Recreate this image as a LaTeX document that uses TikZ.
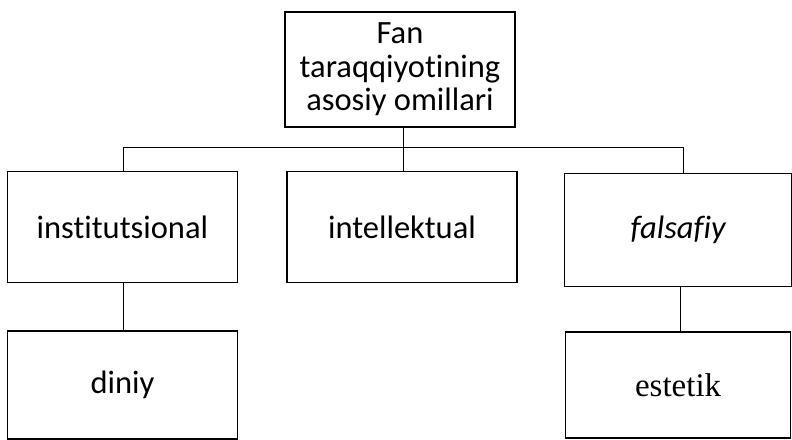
\documentclass[tikz,border=0pt]{standalone}
\usepackage{fontspec}
\setmainfont[Ligatures={NoCommon}]{Carlito}
\newfontfamily\timesfont{Liberation Serif}
\usepackage{tikz}
\usetikzlibrary{positioning,calc}
\tikzset{
     factor/.style={rectangle, draw, line width=1.6pt, minimum width=230pt,
                    minimum height=111pt, align=center, inner sep=2pt,
                    font=\fontsize{32.5}{33.5}\selectfont},
     link/.style={draw, line width=0.9pt}
     }

\begin{document}
\begin{tikzpicture}
\useasboundingbox (0,0) rectangle (792pt,439pt);

\node [factor, minimum height=115pt] (root) at (400pt,369.5pt) {Fan\\taraqqiyotining\\asosiy omillari};

\node [factor, below=43pt of root, xshift=2pt] (intel) {intellektual};
\node [factor, left=48pt of intel] (inst) {institutsional};
\node [factor, right=46pt of intel, yshift=-3pt, minimum width=227pt, minimum height=113pt] (fals) {\itshape falsafiy};

\node [factor, below=47pt of inst, minimum height=108pt] (diniy) {diniy};
\node [factor, below=44pt of fals, minimum width=225pt, minimum height=106pt, font=\timesfont\fontsize{33}{35}\selectfont] (estet) {estetik};

\coordinate (bus) at ($(root.south)+(3pt,-20pt)$);

%Lines
\draw [link] ($(root.south)+(3pt,0)$) -- (bus);
\draw [link] ([xshift=1.5pt]inst.north) |- (bus) -| ([xshift=5.5pt]fals.north);
\draw [link] (bus) -- (bus |- intel.north);

\draw [link] ([xshift=1.5pt]inst.south) -- ([xshift=1.5pt]diniy.north);
\draw [link] ([xshift=2.5pt]fals.south) -- ([xshift=2.5pt]fals.south |- estet.north);
\end{tikzpicture}
\end{document}
